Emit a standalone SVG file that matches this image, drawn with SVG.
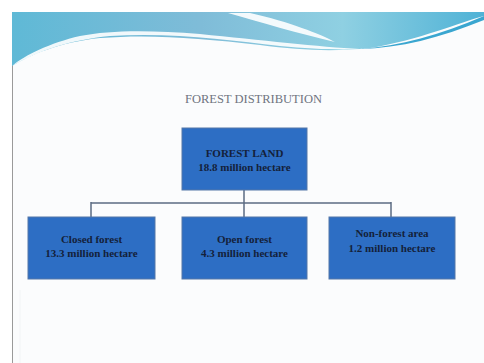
<svg xmlns="http://www.w3.org/2000/svg" width="484" height="363" viewBox="0 0 484 363">
<defs>
<linearGradient id="band" x1="0" y1="0" x2="1" y2="0">
<stop offset="0" stop-color="#5fb9d6"/>
<stop offset="0.4" stop-color="#7fbcd8"/>
<stop offset="0.7" stop-color="#8fd0e2"/>
<stop offset="1" stop-color="#4fb2d6"/>
</linearGradient>
<style>
.box{fill:#2d6ec4;stroke:#5577a8;stroke-width:1}
.t{font-family:"Liberation Serif",serif;font-weight:bold;font-size:11px;fill:#14213a;text-anchor:middle}
.con{stroke:#5b6b82;stroke-width:1.5;fill:none}
</style>
</defs>
<rect width="484" height="363" fill="#ffffff"/>
<rect x="12" y="12" width="472" height="351" fill="#fbfcfd"/>
<line x1="12.5" y1="12" x2="12.5" y2="363" stroke="#9a9a9a" stroke-width="1"/>
<line x1="20" y1="290" x2="20" y2="363" stroke="#f2f4f6" stroke-width="1"/>
<g id="header">
<path d="M12 12 H484 V16 C460 22 420 40 370 48 C330 52 300 50 260 45 C200 38 150 34 100 38 C60 42 30 55 12 66 Z" fill="url(#band)"/>
<path d="M12 66 C40 50 70 40 110 36 C170 32 230 40 280 46 C310 49 340 50 360 49 C320 47 260 40 200 34 C150 30 110 30 80 36 C50 43 25 55 12 66 Z" fill="#ffffff" opacity="0.9"/>
<path d="M228 13 C260 22 300 34 335 42 C320 34 290 22 250 13 Z" fill="#ffffff" opacity="0.9"/>
<path d="M360 49 C400 46 440 35 484 16 V20 C440 38 400 48 360 49 Z" fill="#3aa6d0"/>
</g>
<text id="title" x="253.5" y="103" font-family="Liberation Serif,serif" font-size="12.5" fill="#6f7480" text-anchor="middle">FOREST DISTRIBUTION</text>
<g id="connectors">
<line class="con" x1="244" y1="190" x2="244" y2="203"/>
<line class="con" x1="91" y1="203" x2="391" y2="203"/>
<line class="con" x1="91" y1="202" x2="91" y2="217"/>
<line class="con" x1="244" y1="203" x2="244" y2="217"/>
<line class="con" x1="391" y1="202" x2="391" y2="217"/>
</g>
<g id="forest-land">
<rect class="box" x="182" y="128" width="125" height="62"/>
<text class="t" x="244.5" y="157">FOREST LAND</text>
<text class="t" x="244.5" y="170.5">18.8 million hectare</text>
</g>
<g id="closed-forest">
<rect class="box" x="28" y="217" width="127" height="62"/>
<text class="t" x="91.5" y="243">Closed forest</text>
<text class="t" x="91.5" y="257">13.3 million hectare</text>
</g>
<g id="open-forest">
<rect class="box" x="182" y="217" width="125" height="62"/>
<text class="t" x="244.5" y="243">Open forest</text>
<text class="t" x="244.5" y="257">4.3 million hectare</text>
</g>
<g id="non-forest">
<rect class="box" x="329" y="217" width="126" height="62"/>
<text class="t" x="392" y="237">Non-forest area</text>
<text class="t" x="392" y="251.5">1.2 million hectare</text>
</g>
</svg>
